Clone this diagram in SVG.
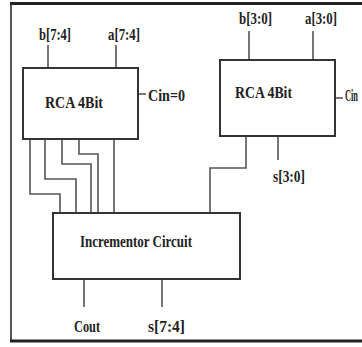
<svg xmlns="http://www.w3.org/2000/svg" width="362" height="347" viewBox="0 0 362 347">
<style>
.box{fill:#fff;stroke:#333;stroke-width:2}
.w{fill:none;stroke:#555;stroke-width:1.6}
.t{font-family:"Liberation Serif","Times New Roman",serif;font-weight:bold;fill:#222;font-size:17px}
.s{font-size:16px}
</style>
<rect width="362" height="347" fill="#fff"/>
<g id="frame">
<line x1="11" y1="3" x2="11" y2="342" stroke="#555" stroke-width="2"/>
<line x1="10" y1="3.5" x2="362" y2="3.5" stroke="#222" stroke-width="3"/>
<line x1="10" y1="341" x2="362" y2="341" stroke="#222" stroke-width="3"/>
</g>
<g id="connectors">
<path class="w" d="M48 45V68M116 45V68"/>
<path class="w" d="M138 94H146"/>
<path class="w" d="M249 31V60M313 31V60"/>
<path class="w" d="M335 98H343"/>
<path class="w" d="M278 136V160"/>
<path class="w" d="M246 136V168H210V213"/>
<path class="w" d="M30 139V194H60V213"/>
<path class="w" d="M45 139V179H76V213"/>
<path class="w" d="M62 139V164H91V213"/>
<path class="w" d="M79 139V154H98V213"/>
<path class="w" d="M114 139V213"/>
<path class="w" d="M84 279V307M162 279V307"/>
</g>
<g id="rca_high">
<rect class="box" x="23" y="68" width="115" height="71"/>
<text class="t" x="45" y="108" textLength="58" lengthAdjust="spacingAndGlyphs">RCA 4Bit</text>
</g>
<g id="rca_low">
<rect class="box" x="220" y="60" width="115" height="76"/>
<text class="t" x="235" y="98" textLength="57" lengthAdjust="spacingAndGlyphs">RCA 4Bit</text>
</g>
<g id="incrementor">
<rect class="box" x="53" y="213" width="187" height="66"/>
<text class="t" x="80" y="247" textLength="112" lengthAdjust="spacingAndGlyphs">Incrementor Circuit</text>
</g>
<g id="labels">
<text class="t s" x="39" y="40" textLength="32" lengthAdjust="spacingAndGlyphs">b[7:4]</text>
<text class="t s" x="108" y="40" textLength="32" lengthAdjust="spacingAndGlyphs">a[7:4]</text>
<text class="t" x="148" y="101" textLength="37" lengthAdjust="spacingAndGlyphs">Cin=0</text>
<text class="t s" x="239" y="24" textLength="33" lengthAdjust="spacingAndGlyphs">b[3:0]</text>
<text class="t s" x="305" y="24" textLength="32" lengthAdjust="spacingAndGlyphs">a[3:0]</text>
<text class="t s" x="345" y="101" textLength="13" lengthAdjust="spacingAndGlyphs">Cin</text>
<text class="t s" x="273" y="182" textLength="32" lengthAdjust="spacingAndGlyphs">s[3:0]</text>
<text class="t s" x="74" y="332" textLength="26" lengthAdjust="spacingAndGlyphs">Cout</text>
<text class="t s" x="148" y="332" textLength="37" lengthAdjust="spacingAndGlyphs">s[7:4]</text>
</g>
</svg>
